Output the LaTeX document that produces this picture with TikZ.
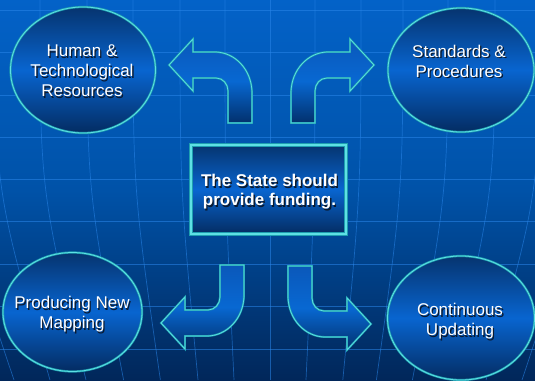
\documentclass[tikz,border=0pt]{standalone}
\usepackage{fontspec}
\setmainfont{Liberation Sans}
\usetikzlibrary{shapes.geometric}
\definecolor{bgtop}{HTML}{0362C8}
\definecolor{bgmid}{HTML}{0052A8}
\definecolor{bgbot}{HTML}{01275A}
\definecolor{gridc}{HTML}{2A86EA}
\definecolor{bord}{HTML}{1E9FB0}
\definecolor{bordin}{HTML}{5EE0E4}
\definecolor{elltop}{HTML}{06346F}
\definecolor{ellmid}{HTML}{0865D0}
\definecolor{ellbot}{HTML}{042C62}
\definecolor{arrtop}{HTML}{0A58BA}
\definecolor{arrmid}{HTML}{0868D2}
\definecolor{arrbot}{HTML}{02306C}
\definecolor{shadowc}{HTML}{0A1A30}
\tikzset{
  gridline/.style={draw=gridc, line width=0.7pt, opacity=0.55},
  ell/.style={ellipse, draw=bord, double=bordin, line width=0.7pt, double distance=0.8pt,
    top color=elltop, bottom color=ellbot, middle color=ellmid, inner sep=0pt},
  cbox/.style={rectangle, draw=bord, double=bordin, line width=0.9pt, double distance=1.4pt,
    top color=elltop, bottom color=ellbot, middle color=ellmid, inner sep=0pt},
  arr/.style={draw=bord, double=bordin, line width=0.6pt, double distance=0.7pt, line join=miter,
    top color=arrtop, bottom color=arrbot, middle color=arrmid},
  txt/.style={text=white, align=center, inner sep=0pt, font=\fontsize{17}{20}\selectfont},
  txtsh/.style={txt, text=shadowc},
  btxt/.style={txt, font=\fontsize{17}{19}\selectfont\bfseries},
  btxtsh/.style={btxt, text=shadowc},
}
\newcommand\barrow[4]{%
  \path[arr] ({#1+#3*(-12)},{#2}) -- ({#1+#3*12},{#2}) -- ({#1+#3*12},{#2+#4*(-30)})
    .. controls ({#1+#3*12},{#2+#4*(-53)}) and ({#1+#3*(-5)},{#2+#4*(-71)}) .. ({#1+#3*(-25)},{#2+#4*(-71)})
    -- ({#1+#3*(-47)},{#2+#4*(-71)}) -- ({#1+#3*(-47)},{#2+#4*(-84)}) -- ({#1+#3*(-71)},{#2+#4*(-58)})
    -- ({#1+#3*(-47)},{#2+#4*(-32)}) -- ({#1+#3*(-47)},{#2+#4*(-45)}) -- ({#1+#3*(-24)},{#2+#4*(-45)})
    .. controls ({#1+#3*(-17)},{#2+#4*(-45)}) and ({#1+#3*(-12)},{#2+#4*(-39)}) .. ({#1+#3*(-12)},{#2+#4*(-32)})
    -- cycle;}
\newcommand\shtext[5]{%
  \node[#1sh] (#2s) at ({#3+1.3},{#4+1.3}) {#5};
  \node[#1] (#2) at (#3,#4) {#5};}
\begin{document}
\begin{tikzpicture}[x=1pt,y=-1pt]
\useasboundingbox (0,0) rectangle (535,380);
\clip (0,0) rectangle (535,380);
% background
\shade[top color=bgtop, bottom color=bgbot, middle color=bgmid] (0,0) rectangle (535,380);
\foreach \yy in {10,52,95,137,179,221,264,306,349}
  \draw[gridline] (0,\yy) -- (535,\yy);
\foreach \xx in {-185,-140,-95,-50,-5,40,87,133,180,225,270,315,361,403,448,495,540,585,630,675}
  \draw[gridline] (\xx,0) .. controls (\xx,190) .. ({270+(\xx-270)*0.8},380);
% ellipses
\node[ell, minimum width=145pt, minimum height=126pt] (hr) at (83,70) {};
\node[ell, minimum width=146pt, minimum height=124pt] (sp) at (461,70) {};
\node[ell, minimum width=139pt, minimum height=119pt] (pm) at (72.5,312) {};
\node[ell, minimum width=147pt, minimum height=124pt] (cu) at (461,318) {};
% central box
\node[cbox, minimum width=155pt, minimum height=89pt] (st) at (268.5,189.5) {};
% arrows
\barrow{240}{123}{1}{1}
\barrow{303}{123}{-1}{1}
\barrow{232}{265}{1}{-1}
\barrow{300}{266}{-1}{-1}
% texts
\shtext{txt}{thr}{82}{71}{Human \&\\Technological\\Resources}
\shtext{txt}{tsp}{459}{61}{Standards \&\\Procedures}
\shtext{txt}{tpm}{72}{314.5}{Producing New\\Mapping}
\shtext{txt}{tcu}{460}{321.5}{Continuous\\Updating}
\shtext{btxt}{tst}{269.5}{192}{The State should\\provide funding.}
\end{tikzpicture}
\end{document}
